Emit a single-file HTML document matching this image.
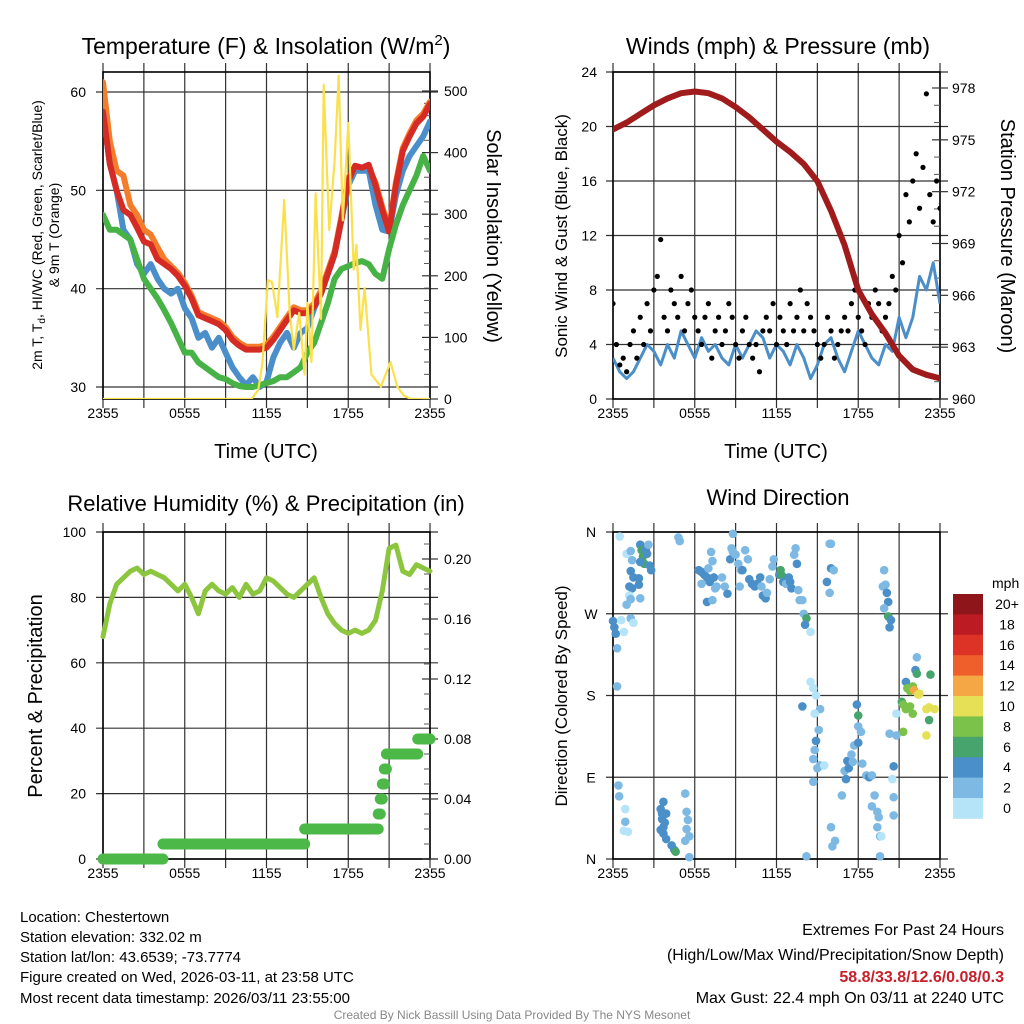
<!DOCTYPE html>
<html><head><meta charset="utf-8"><style>
html,body{margin:0;padding:0;background:#fff;}
svg{display:block;font-family:"Liberation Sans",Arial,sans-serif;}
</style></head><body>
<svg id="fig" xmlns="http://www.w3.org/2000/svg" width="1024" height="1024" viewBox="0 0 1024 1024">
<rect x="0" y="0" width="1024" height="1024" fill="#fff"/>
<text x="266" y="54" font-size="23" text-anchor="middle">Temperature (F) &amp; Insolation (W/m<tspan font-size="15" dy="-9">2</tspan><tspan dy="9">)</tspan></text>
<text x="778" y="54" font-size="23" text-anchor="middle">Winds (mph) &amp; Pressure (mb)</text>
<text x="266" y="511" font-size="22" text-anchor="middle">Relative Humidity (%) &amp; Precipitation (in)</text>
<text x="778" y="505" font-size="22" text-anchor="middle">Wind Direction</text>
<text transform="translate(42,235) rotate(-90)" font-size="14" text-anchor="middle">2m T, T<tspan font-size="10" dy="3">d</tspan><tspan dy="-3">, HI/WC (Red, Green, Scarlet/Blue)</tspan></text>
<text transform="translate(59,235) rotate(-90)" font-size="14" text-anchor="middle">&amp; 9m T (Orange)</text>
<text transform="translate(487,236) rotate(90)" font-size="20" text-anchor="middle">Solar Insolation (Yellow)</text>
<text x="266" y="458" font-size="20" text-anchor="middle">Time (UTC)</text>
<text x="776" y="458" font-size="20" text-anchor="middle">Time (UTC)</text>
<text transform="translate(567,236) rotate(-90)" font-size="17" text-anchor="middle">Sonic Wind &amp; Gust (Blue, Black)</text>
<text transform="translate(1001,236) rotate(90)" font-size="20" text-anchor="middle">Station Pressure (Maroon)</text>
<text transform="translate(42,696) rotate(-90)" font-size="20" text-anchor="middle">Percent &amp; Precipitation</text>
<text transform="translate(567,696) rotate(-90)" font-size="17" text-anchor="middle">Direction (Colored By Speed)</text>
<g font-size="15">
<text x="20" y="922">Location: Chestertown</text>
<text x="20" y="942">Station elevation: 332.02 m</text>
<text x="20" y="962">Station lat/lon: 43.6539; -73.7774</text>
<text x="20" y="982">Figure created on Wed, 2026-03-11, at 23:58 UTC</text>
<text x="20" y="1003">Most recent data timestamp: 2026/03/11 23:55:00</text>
</g>
<g font-size="16" text-anchor="end">
<text x="1004" y="935">Extremes For Past 24 Hours</text>
<text x="1004" y="960">(High/Low/Max Wind/Precipitation/Snow Depth)</text>
<text x="1004" y="982" fill="#c8202a" font-weight="bold">58.8/33.8/12.6/0.08/0.3</text>
<text x="1004" y="1003">Max Gust: 22.4 mph On 03/11 at 2240 UTC</text>
</g>
<text x="512" y="1019" font-size="12" fill="#888" text-anchor="middle">Created By Nick Bassill Using Data Provided By The NYS Mesonet</text>
</svg>
<script>
// ---------- data ----------
const xTickLabels = ["2355","0555","1155","1755","2355"];
const xTickHours = [0,6,12,18,24];
const tempRed = [58,52.7,50,48,47.5,46.2,44.8,44.5,43,42.5,42,41.3,40.3,39,37.3,37,36.7,36.4,35.8,34.8,34.2,33.8,33.8,33.8,34,34.8,35.8,36.8,37.8,37.5,37.5,38.2,39.5,41.5,43.5,47,51,52.5,52.3,52.6,50.5,48,45.8,50.5,54,55.5,56.8,57.5,58.8];
const tempOrange = [61,55,52,51.5,48.5,47.5,46,45.5,44.2,43,42.3,41.6,40.6,39.3,37.6,37.3,37,36.7,36.1,35.1,34.5,34.1,34.1,34.1,34.3,35.1,36.1,37.1,38.1,37.8,37.8,38.5,39.8,41.8,43.8,47.3,51.3,52.2,52,52.3,50.8,48.3,46.1,50.8,54.3,55.8,57.1,57.8,59];
const tempBlue = [58,52.7,50,46,45,42.5,41.5,42.5,41,40,39.5,40,38,37,35,35.5,34,35,33.5,32,31,30.2,31,30,30.5,33,34.5,35.5,34,35.5,36,38,39.5,41.5,43.5,47,50.5,52,52,52,48.5,46,45.8,49.5,52,53.5,54.5,55.5,57];
const tempGreen = [47.5,46,46,45.5,45,43,41,40,39,37.8,36.5,35,33.5,33.5,32.5,32,31.5,31,30.8,30.4,30.1,30,30,30.2,30.4,30.6,31,31,31.5,32,33.5,34.5,36.5,38.5,41,42,42.3,42.6,42.8,42.5,41.5,41,44,46.5,48.5,50,51.5,53.5,52];
const solarHours = [0,10.9,11.4,11.7,12.1,12.4,12.8,13.3,13.7,14.0,14.4,14.8,15.0,15.3,15.6,16.0,16.2,16.6,17.0,17.3,17.6,18.0,18.4,18.6,18.9,19.2,19.7,20.4,21.1,21.6,22.1,22.6,24];
const solarWatts = [0,0,15,58,193,190,133,323,140,80,140,40,156,60,334,130,510,274,386,525,290,448,210,250,112,180,40,20,60,20,5,0,0];
const pressure = [975.6,976.0,976.5,977.0,977.4,977.7,977.8,977.7,977.4,976.9,976.3,975.6,974.9,974.3,973.6,972.6,970.9,968.9,966.3,964.9,963.8,962.5,961.7,961.4,961.2];
const windSpeed = [3,2,1.5,2,3,4,3.5,2.5,4,3,5,4,3,4.5,3.5,4,3,2.5,4,3,4,5,4.5,3,4,3.5,2.5,4,3,1.5,2.5,4,4.5,3,2,3.5,5,4,3,2.5,4,3.5,6,4.5,6,9,8,10,7];
const windGust = [7,4,2.5,3,2,4,5,3,6, 4,7,5,8,9,11.7,6,5, 8,7,6,9,5,7,8,6, 5,4,6,7,3,5,6,4, 5,7,6,4,3,5,6,4, 3,4,2,5,6,5,7,4, 6,5,4,7,5,6,8,5, 7,6,5,4,3,4,6,5, 3,4,5,6,5,7,8,6, 5,4,7,6,8,7,5,6, 7,9,8,12,10,15,13,16, 18,14,17,22.4,15,13,16,14];
const relHumidity = [68,78,84,86,88,89,87,88,87,86,84,82,84,80,75,82,84,82,81,83,80,84,81,82,86,85,83,81,80,82,84,86,80,75,72,70,69,70,69,70,73,82,95,96,88,87,90,89,88];
const precipStartHours = [0,4.4,14.8,20.2,20.35,20.5,20.65,20.8,23.1];
const precipTotals = [0,0.01,0.02,0.03,0.04,0.05,0.06,0.07,0.08];
const dirHours = [0,0.1,0.2,0.3,0.5,0.6,0.8,1.3,1.5,0.3,0.4,0.45,0.9,0.9,0.8,1.1,1.0,1.3,1.4,1.3,1.5,1.2,1.4,1.2,1.0,1.3,2.0,1.9,1.9,2.0,2.1,2.2,2.3,2.4,2.5,2.6,2.7,2.8,2.0,4.8,4.9,3.7,3.5,3.6,3.9,3.6,3.8,3.7,3.5,3.7,3.9,4.3,4.5,4.6,5.3,5.6,5.4,5.5,5.4,5.3,5.6,6.3,6.5,6.7,6.9,7.1,6.5,7.0,7.2,7.3,7.4,7.6,6.9,7.3,7.5,8.0,8.2,8.4,8.6,8.7,8.8,8.8,9.0,9.2,9.4,9.3,9.5,9.7,9.9,10.0,10.2,10.4,10.6,10.8,10.9,11.0,11.2,11.3,11.5,11.7,11.8,12.2,12.3,12.4,12.5,12.7,12.9,13.0,13.1,13.3,13.4,13.5,13.6,13.7,13.9,14.0,14.2,14.1,14.5,15.9,16.0,16.0,16.2,15.7,15.9,19.9,19.8,20.0,20.1,20.2,19.9,20.2,20.4,20.3,13.9,14.5,14.7,14.9,15.2,14.8,15.1,14.9,14.8,14.7,15.0,15.2,15.5,14.7,14.2,16.0,16.3,16.1,17.0,17.1,16.8,17.3,17.2,17.6,17.5,17.7,18.0,18.2,18.0,17.9,18.0,18.3,18.6,18.8,19.0,19.2,19.0,19.4,19.5,19.4,19.6,19.7,19.6,20.5,20.6,20.3,20.8,20.6,20.6,20.8,22.3,22.2,22.3,23.3,21.5,21.6,21.8,22.0,22.1,22.4,22.5,21.2,21.3,21.5,21.8,22.0,23.0,23.2,23.6,23.2,23.0,21.3];
const dirDegrees = [262,255,248,232,355,263,250,265,260,190,81,69,55,41,31,30,336,339,329,317,310,300,298,290,280,286,287,302,309,346,340,333,325,340,336,346,323,318,327,354,350,63,55,50,50,44,40,35,32,28,22,15,10,8,20,25,33,43,52,72,2,318,316,313,310,305,303,320,338,328,310,300,283,285,298,310,300,292,330,342,358,338,335,325,318,300,318,340,330,308,303,300,303,310,300,290,287,293,308,322,330,313,318,312,305,303,310,305,298,335,342,325,296,285,285,270,265,258,250,347,347,320,318,305,293,318,300,302,293,283,276,267,263,255,168,195,188,180,165,160,142,130,120,110,100,103,103,85,3,35,20,14,97,88,70,100,108,107,115,125,128,140,146,170,158,105,92,90,92,70,58,52,46,35,25,25,3,88,102,138,136,68,48,160,222,208,204,203,195,188,185,190,186,181,182,173,170,165,168,160,165,167,165,153,136,140];
const dirSpeeds = [5,5,4.5,3.5,1.5,1.5,1.5,3,1.5,3,3,3,1.5,3,1.5,1.5,1.5,3,3,4,4,4,5,1.5,3,3,3,4,5,5,6,6,6,4,5,3,4,5,4,3,3,5,4,5,5,4,5,5,4,5,5,5,4,6,3,3,3,3,3,3,3,4,5,5,5,4,3,3,3,3,4,3,5,3,3,3,3,5,4,3,3,3,3,3,3,3,5,3,3,5,5,5,4,4,3,4,4,3,3,3,3,4,6,6,5,3,4,4,5,3,3,5,3,3,3,3,6,5,1.5,3,3,5,3,5,3,3,3,3,5,5,3,6,5,5,4,1.5,1.5,1.5,3,1.5,3,5,3,3,3,3,1.5,3,3,3,3,3,3,5,3,5,5,3,3,3,5,3,3,5,6,3,3,5,3,3,3,3,3,3,3,1.5,3,1.5,4,3,3,3,3,1.5,3,4,6,6,4,8,8,8,12,10,10,6,8,8,8,8,10,10,10,6,10,8,3];
const speedBinLabels = ["20+","18","16","14","12","10","8","6","4","2","0"];
const speedBinColors = ["#8e161b","#bb1c24","#dd3327","#ef5f2b","#f6a745","#e6e056","#7bc24a","#47a46d","#4a8fc7","#7eb9e4","#b5e4f8"];

// ---------- helpers ----------
const NS = "http://www.w3.org/2000/svg";
const svg = document.getElementById("fig");
function mk(tag, attrs, parent) {
  const e = document.createElementNS(NS, tag);
  for (const k in attrs) e.setAttribute(k, attrs[k]);
  (parent || svg).appendChild(e);
  return e;
}
function linScale(d0, d1, r0, r1) { return v => r0 + (v - d0) / (d1 - d0) * (r1 - r0); }
function pathFrom(xs, ys) { let d = ""; for (let i = 0; i < xs.length; i++) d += (i ? "L" : "M") + xs[i].toFixed(1) + "," + ys[i].toFixed(1); return d; }
function seriesPath(vals, step, xs, ys) { const a = [], b = []; vals.forEach((v, i) => { a.push(xs(i * step)); b.push(ys(v)); }); return pathFrom(a, b); }

function frame(name, x0, y0, w, h, hGridYs) {
  const g = mk("g", {});
  
  
  for (let hr = 0; hr <= 24; hr += 3) {
    const x = x0 + hr / 24 * w;
    const l = mk("line", { x1: x, x2: x, y1: y0 - 9, y2: y0 + h + 9, stroke: "#333", "stroke-width": 1.2 }, g);
    
    
  }
  hGridYs.forEach(y => {
    const l = mk("line", { x1: x0 - 7, x2: x0 + w + 8, y1: y, y2: y, stroke: "#333", "stroke-width": 1.2 }, g);
    
    
  });
  const r = mk("rect", { x: x0, y: y0, width: w, height: h, fill: "none", stroke: "#000", "stroke-width": 1.6 }, g);
  
  
  return g;
}
function xLabels(name, x0, w, y) {
  xTickHours.forEach((hr, i) => {
    const t = mk("text", { x: x0 + hr / 24 * w, y: y, "font-size": 14, "text-anchor": "middle" });
    t.textContent = xTickLabels[i];
    
    
  });
}
function yLabels(name, vals, labels, ys, x, anchor) {
  vals.forEach((v, i) => {
    const t = mk("text", { x: x, y: ys(v) + 5, "font-size": 14, "text-anchor": anchor });
    t.textContent = labels[i];
    
    
  });
}
function rightTicks(name, majors, minors, ys, xr) {
  majors.forEach(v => {
    const l = mk("line", { x1: xr - 8, x2: xr + 8, y1: ys(v), y2: ys(v), stroke: "#333", "stroke-width": 1.2 });
    
    
  });
  minors.forEach(v => {
    const l = mk("line", { x1: xr - 6, x2: xr, y1: ys(v), y2: ys(v), stroke: "#555", "stroke-width": 1 });
    
    
  });
}

// ---------- panel 1: temperature ----------
{
  const X0 = 103, W = 327, Y0 = 72, H = 327;
  const xs = linScale(0, 24, X0, X0 + W);
  const yT = linScale(30, 60, 387, 92);
  const yS = linScale(0, 500, 399, 91);
  frame("temperature", X0, Y0, W, H, [30, 40, 50, 60].map(yT));
  const minor = []; for (let v = 20; v < 520; v += 20) if (v % 100) minor.push(v);
  rightTicks("insolation", [0, 100, 200, 300, 400, 500], minor, yS, X0 + W);
  xLabels("temperature", X0, W, 418);
  yLabels("temperature-y", [30, 40, 50, 60], ["30", "40", "50", "60"], yT, 86, "end");
  yLabels("insolation-y", [0, 100, 200, 300, 400, 500], ["0", "100", "200", "300", "400", "500"], yS, 444, "start");
  const clip = mk("clipPath", { id: "c1" });
  mk("rect", { x: X0, y: Y0, width: W, height: H }, clip);
  const g = mk("g", { "clip-path": "url(#c1)" });
  
  
  const defs = [["temp-9m-orange", tempOrange, "#f47d2b"], ["heat-index-blue", tempBlue, "#4a8fca"], ["temp-2m-red", tempRed, "#d62a24"], ["dewpoint-green", tempGreen, "#47b346"]];
  defs.forEach(([n, arr, c]) => {
    const p = mk("path", { d: seriesPath(arr, 0.5, xs, yT), fill: "none", stroke: c, "stroke-width": 6, "stroke-linejoin": "round", "stroke-linecap": "round" }, g);
    
    
  });
  const sp = mk("path", { d: pathFrom(solarHours.map(xs), solarWatts.map(yS)), fill: "none", stroke: "#fbe04e", "stroke-width": 2.2, "stroke-linejoin": "round" }, g);
  
  
}

// ---------- panel 2: winds & pressure ----------
{
  const X0 = 613, W = 327, Y0 = 72, H = 327;
  const xs = linScale(0, 24, X0, X0 + W);
  const yW = linScale(0, 24, 399, 72);
  const yP = linScale(960, 978, 399, 88);
  frame("winds", X0, Y0, W, H, [0, 4, 8, 12, 16, 20, 24].map(yW));
  const minor = []; for (let v = 961; v < 979; v++) if ((v - 960) % 3) minor.push(v);
  rightTicks("pressure", [960, 963, 966, 969, 972, 975, 978], minor, yP, X0 + W);
  xLabels("winds", X0, W, 418);
  yLabels("wind-y", [0, 4, 8, 12, 16, 20, 24], ["0", "4", "8", "12", "16", "20", "24"], yW, 597, "end");
  yLabels("pressure-y", [960, 963, 966, 969, 972, 975, 978], ["960", "963", "966", "969", "972", "975", "978"], yP, 952, "start");
  const clip = mk("clipPath", { id: "c2" });
  mk("rect", { x: X0, y: Y0, width: W, height: H }, clip);
  const g = mk("g", { "clip-path": "url(#c2)" });
  
  
  const wp = mk("path", { d: seriesPath(windSpeed, 0.5, xs, yW), fill: "none", stroke: "#4a8fca", "stroke-width": 3, "stroke-linejoin": "round" }, g);
  
  
  windGust.forEach((v, i) => {
    const c = mk("circle", { cx: xs(i * 0.25), cy: yW(v), r: 2.6, fill: "#000" }, g);
    
    
  });
  const pp = mk("path", { d: seriesPath(pressure, 1, xs, yP), fill: "none", stroke: "#a01b1b", "stroke-width": 6, "stroke-linejoin": "round", "stroke-linecap": "round" }, g);
  
  
}

// ---------- panel 3: RH & precip ----------
{
  const X0 = 103, W = 327, Y0 = 532, H = 327;
  const xs = linScale(0, 24, X0, X0 + W);
  const yR = linScale(0, 100, 859, 532);
  const yPr = linScale(0, 0.2, 859, 559);
  frame("humidity", X0, Y0, W, H, [0, 20, 40, 60, 80, 100].map(yR));
  const minor = []; for (let v = 0.01; v < 0.215; v += 0.01) if (Math.round(v * 100) % 4) minor.push(v);
  rightTicks("precip", [0, 0.04, 0.08, 0.12, 0.16, 0.2], minor, yPr, X0 + W);
  xLabels("humidity", X0, W, 878);
  yLabels("humidity-y", [0, 20, 40, 60, 80, 100], ["0", "20", "40", "60", "80", "100"], yR, 86, "end");
  yLabels("precip-y", [0, 0.04, 0.08, 0.12, 0.16, 0.2], ["0.00", "0.04", "0.08", "0.12", "0.16", "0.20"], yPr, 444, "start");
  const g = mk("g", {});
  
  
  const rp = mk("path", { d: seriesPath(relHumidity, 0.5, xs, yR), fill: "none", stroke: "#8cc63f", "stroke-width": 5, "stroke-linejoin": "round", "stroke-linecap": "round" }, g);
  
  
  precipStartHours.forEach((t0, i) => {
    const t1 = i + 1 < precipStartHours.length ? precipStartHours[i + 1] : 24;
    const s = mk("line", { x1: xs(t0), x2: xs(t1), y1: yPr(precipTotals[i]), y2: yPr(precipTotals[i]), stroke: "#4cb848", "stroke-width": 11, "stroke-linecap": "round" }, g);
    
    
  });
}

// ---------- panel 4: wind direction ----------
{
  const X0 = 613, W = 327, Y0 = 532, H = 327;
  const xs = linScale(0, 24, X0, X0 + W);
  const yD = linScale(0, 360, 859, 532);
  frame("direction", X0, Y0, W, H, [0, 90, 180, 270, 360].map(yD));
  xLabels("direction", X0, W, 878);
  yLabels("direction-y", [0, 90, 180, 270, 360], ["N", "E", "S", "W", "N"], yD, 591, "middle");
  const g = mk("g", {});
  
  
  dirHours.forEach((t, i) => {
    const bin = Math.min(10, Math.floor(dirSpeeds[i] / 2));
    const c = mk("circle", { cx: xs(t), cy: yD(dirDegrees[i]), r: 4.3, fill: speedBinColors[10 - bin] }, g);
    
    
  });
  const cb = mk("g", {});
  
  
  const mt = mk("text", { x: 992, y: 588, "font-size": 14 }, cb);
  mt.textContent = "mph";
  
  
  speedBinColors.forEach((c, i) => {
    const r = mk("rect", { x: 953, y: 594 + i * 20.4, width: 30, height: 20.8, fill: c }, cb);
    
    
    const t = mk("text", { x: 1007, y: 609 + i * 20.4, "font-size": 14, "text-anchor": "middle" }, cb);
    t.textContent = speedBinLabels[i];
    
    
  });
}
</script>
</body></html>
